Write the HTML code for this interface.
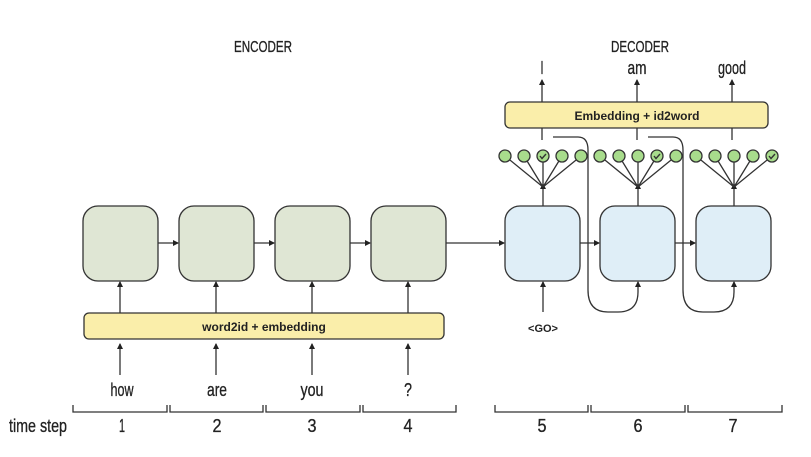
<!DOCTYPE html>
<html><head><meta charset="utf-8"><style>
html,body{margin:0;padding:0;background:#fff;}
svg{display:block;}
text{font-family:"Liberation Sans",sans-serif;fill:#222;}
.c{stroke:#222;stroke-width:0.3;}
</style></head><body>
<svg width="811" height="457" viewBox="0 0 811 457" xmlns="http://www.w3.org/2000/svg">
<defs>
<marker id="a" markerWidth="6" markerHeight="6" refX="5" refY="3" orient="auto" markerUnits="userSpaceOnUse"><path d="M0,0 L6,3 L0,6 z" fill="#222"/></marker>
</defs>
<g stroke="#333" stroke-width="1.3" fill="none">
<rect x="83" y="206" width="75" height="75" rx="15" fill="#dfe6d4"/>
<rect x="179" y="206" width="75" height="75" rx="15" fill="#dfe6d4"/>
<rect x="275" y="206" width="75" height="75" rx="15" fill="#dfe6d4"/>
<rect x="371" y="206" width="75" height="75" rx="15" fill="#dfe6d4"/>
<rect x="505" y="206" width="75" height="75" rx="15" fill="#dfeef7"/>
<rect x="600" y="206" width="75" height="75" rx="15" fill="#dfeef7"/>
<rect x="696" y="206" width="75" height="75" rx="15" fill="#dfeef7"/>
<rect x="84" y="313" width="360" height="26" rx="5" fill="#faeeaa"/>
<rect x="505" y="102" width="263" height="26" rx="5" fill="#faeeaa"/>
<line x1="158" y1="243" x2="178" y2="243" marker-end="url(#a)"/>
<line x1="254" y1="243" x2="274" y2="243" marker-end="url(#a)"/>
<line x1="350" y1="243" x2="370" y2="243" marker-end="url(#a)"/>
<line x1="446" y1="243" x2="504" y2="243" marker-end="url(#a)"/>
<line x1="580" y1="243" x2="599" y2="243" marker-end="url(#a)"/>
<line x1="675" y1="243" x2="695" y2="243" marker-end="url(#a)"/>
<line x1="120" y1="313" x2="120" y2="282" marker-end="url(#a)"/>
<line x1="216" y1="313" x2="216" y2="282" marker-end="url(#a)"/>
<line x1="312" y1="313" x2="312" y2="282" marker-end="url(#a)"/>
<line x1="408" y1="313" x2="408" y2="282" marker-end="url(#a)"/>
<line x1="120" y1="375" x2="120" y2="344" marker-end="url(#a)"/>
<line x1="216" y1="375" x2="216" y2="344" marker-end="url(#a)"/>
<line x1="312" y1="375" x2="312" y2="344" marker-end="url(#a)"/>
<line x1="408" y1="375" x2="408" y2="344" marker-end="url(#a)"/>
<line x1="543" y1="312" x2="543" y2="282" marker-end="url(#a)"/>
<path d="M553,137 L578,137 Q588,137 588,150 L588,290 Q588,312 608,312 L618,312 Q638,312 638,292 L638,282" marker-end="url(#a)"/>
<path d="M648,137 L673,137 Q683,137 683,150 L683,290 Q683,312 703,312 L714,312 Q734,312 734,292 L734,282" marker-end="url(#a)"/>
<line x1="542" y1="102" x2="542" y2="80" marker-end="url(#a)"/>
<line x1="637" y1="102" x2="637" y2="80" marker-end="url(#a)"/>
<line x1="732" y1="102" x2="732" y2="80" marker-end="url(#a)"/>
<line x1="542" y1="128" x2="542" y2="140"/>
<line x1="637" y1="128" x2="637" y2="140"/>
<line x1="732" y1="128" x2="732" y2="140"/>
<line x1="543" y1="206" x2="543" y2="184" marker-end="url(#a)"/>
<line x1="638" y1="206" x2="638" y2="184" marker-end="url(#a)"/>
<line x1="734" y1="206" x2="734" y2="184" marker-end="url(#a)"/>
<path d="M543,187 L505,156 M543,187 L524,156 M543,187 L543,156 M543,187 L562,156 M543,187 L581,156"/>
<path d="M638,187 L600,156 M638,187 L619,156 M638,187 L638,156 M638,187 L657,156 M638,187 L676,156"/>
<path d="M734,187 L696,156 M734,187 L715,156 M734,187 L734,156 M734,187 L753,156 M734,187 L772,156"/>
<g fill="#a8dc8c">
<circle cx="505" cy="156" r="6"/><circle cx="524" cy="156" r="6"/><circle cx="543" cy="156" r="6"/><circle cx="562" cy="156" r="6"/><circle cx="581" cy="156" r="6"/>
<circle cx="600" cy="156" r="6"/><circle cx="619" cy="156" r="6"/><circle cx="638" cy="156" r="6"/><circle cx="657" cy="156" r="6"/><circle cx="676" cy="156" r="6"/>
<circle cx="696" cy="156" r="6"/><circle cx="715" cy="156" r="6"/><circle cx="734" cy="156" r="6"/><circle cx="753" cy="156" r="6"/><circle cx="772" cy="156" r="6"/>
</g>
<path d="M540,156 l2,2.5 l4,-4.5 M654,156 l2,2.5 l4,-4.5 M769,156 l2,2.5 l4,-4.5" stroke-width="1.4"/>
<path d="M73,405 L73,412 L167,412 L167,405 M170,405 L170,412 L263,412 L263,405 M266,405 L266,412 L360,412 L360,405 M363,405 L363,412 L456,412 L456,405"/>
<path d="M495,405 L495,412 L588,412 L588,405 M591,405 L591,412 L685,412 L685,405 M688,405 L688,412 L782,412 L782,405"/>
</g>
<g text-anchor="middle" lengthAdjust="spacingAndGlyphs">
<text class="c" x="263" y="52" font-size="16" textLength="58" lengthAdjust="spacingAndGlyphs">ENCODER</text>
<text class="c" x="640" y="52" font-size="16" textLength="58" lengthAdjust="spacingAndGlyphs">DECODER</text>
<text class="c" x="542" y="74" font-size="18" textLength="3" lengthAdjust="spacingAndGlyphs">I</text>
<text class="c" x="637" y="74" font-size="18" textLength="19" lengthAdjust="spacingAndGlyphs">am</text>
<text class="c" x="732" y="74" font-size="18" textLength="28" lengthAdjust="spacingAndGlyphs">good</text>
<text class="c" x="122" y="396" font-size="18" textLength="23" lengthAdjust="spacingAndGlyphs">how</text>
<text class="c" x="217" y="396" font-size="18" textLength="20" lengthAdjust="spacingAndGlyphs">are</text>
<text class="c" x="312" y="396" font-size="18" textLength="23" lengthAdjust="spacingAndGlyphs">you</text>
<text class="c" x="408" y="396" font-size="18" textLength="8" lengthAdjust="spacingAndGlyphs">?</text>
<text x="264" y="331" font-size="12" font-weight="bold">word2id + embedding</text>
<text x="637" y="120" font-size="12" font-weight="bold">Embedding + id2word</text>
<text x="543" y="332" font-size="11" font-weight="bold">&lt;GO&gt;</text>
<text class="c" x="122" y="432" font-size="18" textLength="6" lengthAdjust="spacingAndGlyphs">1</text>
<text class="c" x="217" y="432" font-size="18" textLength="9" lengthAdjust="spacingAndGlyphs">2</text>
<text class="c" x="312" y="432" font-size="18" textLength="9" lengthAdjust="spacingAndGlyphs">3</text>
<text class="c" x="408" y="432" font-size="18" textLength="9" lengthAdjust="spacingAndGlyphs">4</text>
<text class="c" x="542" y="432" font-size="18" textLength="9" lengthAdjust="spacingAndGlyphs">5</text>
<text class="c" x="638" y="432" font-size="18" textLength="9" lengthAdjust="spacingAndGlyphs">6</text>
<text class="c" x="733" y="432" font-size="18" textLength="9" lengthAdjust="spacingAndGlyphs">7</text>
<text class="c" x="38" y="432" font-size="18" textLength="58" lengthAdjust="spacingAndGlyphs">time step</text>
</g>
</svg>
</body></html>
